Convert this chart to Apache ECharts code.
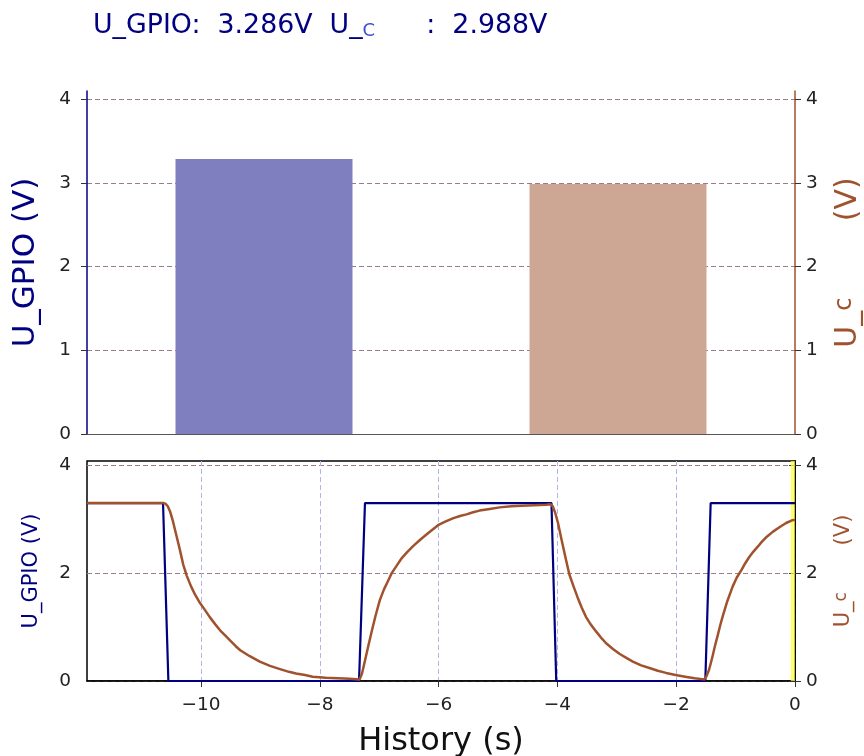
<!DOCTYPE html>
<html>
<head>
<meta charset="utf-8">
<script src="https://cdn.jsdelivr.net/npm/echarts@6/dist/echarts.min.js"></script>
<style>
html, body { margin: 0; padding: 0; background: #fff; overflow: hidden; }
#main { width: 864px; height: 756px; }
</style>
</head>
<body>
<div id="main"></div>
<script>
// current values (top bars)
var barNames = ['U_GPIO', 'U_C'];
var barValues = [3.286, 2.988];

// history traces, [t (s), U (V)]
var gpioHistory = [
    [-11.92, 3.30], [-10.64, 3.30], [-10.55, 0], [-7.34, 0], [-7.24, 3.30],
    [-4.10, 3.30], [-4.02, 0], [-1.51, 0], [-1.42, 3.30], [0, 3.30]
];
var ucHistory = [
    [-11.92, 3.30], [-10.64, 3.30], [-10.60, 3.29], [-10.56, 3.24], [-10.52, 3.14],
    [-10.47, 2.95], [-10.42, 2.72], [-10.36, 2.45], [-10.30, 2.16], [-10.24, 1.95],
    [-10.17, 1.76], [-10.10, 1.60], [-10.02, 1.45], [-9.93, 1.31], [-9.85, 1.18],
    [-9.76, 1.05], [-9.68, 0.94], [-9.59, 0.84], [-9.50, 0.74], [-9.42, 0.65],
    [-9.34, 0.57], [-9.18, 0.46], [-9.01, 0.36], [-8.84, 0.28], [-8.67, 0.22],
    [-8.52, 0.17], [-8.40, 0.14], [-8.25, 0.11], [-8.12, 0.08], [-7.90, 0.06],
    [-7.70, 0.05], [-7.50, 0.04], [-7.33, 0.03],
    [-7.29, 0.14], [-7.25, 0.33], [-7.19, 0.62], [-7.12, 0.95], [-7.06, 1.22],
    [-6.99, 1.50], [-6.92, 1.70], [-6.85, 1.86], [-6.79, 2.00], [-6.70, 2.15],
    [-6.62, 2.28], [-6.53, 2.39], [-6.43, 2.50], [-6.32, 2.61], [-6.20, 2.72],
    [-6.10, 2.81], [-6.01, 2.89], [-5.88, 2.96], [-5.75, 3.02], [-5.64, 3.06],
    [-5.53, 3.09], [-5.42, 3.13], [-5.31, 3.16], [-5.14, 3.19], [-4.97, 3.22],
    [-4.78, 3.24], [-4.60, 3.25], [-4.40, 3.26], [-4.19, 3.27], [-4.12, 3.28],
    [-4.08, 3.24], [-4.04, 3.13], [-3.99, 2.93], [-3.93, 2.62], [-3.87, 2.32],
    [-3.80, 1.98], [-3.73, 1.76], [-3.66, 1.55], [-3.59, 1.36], [-3.52, 1.19],
    [-3.44, 1.05], [-3.35, 0.92], [-3.27, 0.81], [-3.18, 0.70], [-3.06, 0.59],
    [-2.95, 0.50], [-2.84, 0.43], [-2.73, 0.36], [-2.59, 0.29], [-2.45, 0.24],
    [-2.31, 0.19], [-2.17, 0.15], [-2.01, 0.11], [-1.85, 0.08], [-1.69, 0.05],
    [-1.53, 0.03],
    [-1.49, 0.09], [-1.45, 0.20], [-1.42, 0.32], [-1.39, 0.45], [-1.35, 0.64],
    [-1.30, 0.85], [-1.26, 1.03], [-1.22, 1.19], [-1.14, 1.48], [-1.05, 1.75],
    [-0.98, 1.92], [-0.90, 2.06], [-0.84, 2.18], [-0.77, 2.30], [-0.70, 2.40],
    [-0.62, 2.50], [-0.56, 2.58], [-0.49, 2.66], [-0.37, 2.77], [-0.25, 2.86],
    [-0.15, 2.93], [-0.05, 2.98], [0, 2.988]
];

var topTicks = [0, 1, 2, 3, 4];
var bottomYTicks = [0, 2, 4];
var timeTicks = [-10, -8, -6, -4, -2, 0];

var NAVY = '#000080';
var SIENNA = '#a0522d';
var FONT = 'DejaVu Sans';

var myChart = echarts.init(document.getElementById('main'));

function minusSign(v)
{
    return String(v).replace('-', '\u2212');
}

function valueAxis(grid, pos, lineColor, ticks, max, split)
{
    return {
        type: 'value',
        gridIndex: grid,
        position: pos,
        min: 0,
        max: max,
        axisLine: { show: true, lineStyle: { color: lineColor, width: 1.5 } },
        axisTick: { show: true, inside: false, length: 6, customValues: ticks, lineStyle: { color: '#333' } },
        axisLabel: {
            customValues: ticks, fontFamily: FONT, fontSize: 18.5, color: '#222',
            margin: pos == 'left' ? 16 : 11
        },
        splitLine: {
            show: split,
            lineStyle: { color: '#9a7c90', type: [5, 3], width: 1 }
        }
    };
}

var yAxes = [
    valueAxis(0, 'left', NAVY, topTicks, 4.1, true),
    valueAxis(0, 'right', SIENNA, topTicks, 4.1, false),
    valueAxis(1, 'left', '#000', bottomYTicks, 4.08, true),
    valueAxis(1, 'right', '#000', bottomYTicks, 4.08, false)
];
yAxes[0].name = 'U_GPIO (V)';
yAxes[0].nameTextStyle = { fontFamily: FONT, fontSize: 31, color: NAVY };
yAxes[0].nameGap = 46;
yAxes[1].name = 'U_{c|c}        (V)';
yAxes[1].nameTextStyle = { fontFamily: FONT, fontSize: 30, color: SIENNA,
    rich: { c: { fontFamily: FONT, fontSize: 24, color: SIENNA, verticalAlign: 'top' } } };
yAxes[1].nameGap = 38;
yAxes[2].name = 'U_GPIO (V)';
yAxes[2].nameTextStyle = { fontFamily: FONT, fontSize: 21, color: NAVY };
yAxes[2].nameGap = 45;
yAxes[3].name = 'U_{c|c}       (V)';
yAxes[3].nameTextStyle = { fontFamily: FONT, fontSize: 21, color: SIENNA,
    rich: { c: { fontFamily: FONT, fontSize: 17, color: SIENNA, verticalAlign: 'top' } } };
yAxes[3].nameGap = 38;
for (var i = 0; i < yAxes.length; i++)
{
    yAxes[i].nameLocation = 'middle';
    yAxes[i].nameRotate = 90;
}

var option = {
    backgroundColor: '#fff',
    animation: false,
    title: {
        left: 88,
        top: 7,
        text: '{a|U_GPIO:  3.286V  U_}{b|C}{a|      :  2.988V}',
        textStyle: {
            fontWeight: 'normal',
            rich: {
                a: { fontFamily: FONT, fontSize: 26.8, fontWeight: 'normal', color: NAVY },
                b: { fontFamily: FONT, fontSize: 18, fontWeight: 'normal', color: '#3a4fd0', verticalAlign: 'bottom', padding: [10, 0, 0, 0] }
            }
        }
    },
    grid: [
        { left: 87, top: 91, width: 708, height: 343, outerBoundsMode: 'none' },
        { left: 87, top: 461, width: 708, height: 220, outerBoundsMode: 'none',
          show: true, borderColor: '#000', borderWidth: 1.5 }
    ],
    xAxis: [
        {
            type: 'category',
            gridIndex: 0,
            data: barNames,
            axisLine: { lineStyle: { color: '#555', width: 1 } },
            axisTick: { show: false },
            axisLabel: { show: false }
        },
        {
            type: 'value',
            gridIndex: 1,
            min: -11.92,
            max: 0,
            name: 'History (s)',
            nameLocation: 'middle',
            nameGap: 45,
            nameTextStyle: { fontFamily: FONT, fontSize: 32, color: '#111' },
            axisLine: { lineStyle: { color: '#000', width: 1.5 } },
            axisTick: { show: true, length: 6, customValues: timeTicks, lineStyle: { color: '#333' } },
            axisLabel: {
                customValues: timeTicks,
                fontFamily: FONT, fontSize: 18.5, color: '#222', margin: 15,
                formatter: minusSign
            },
            splitLine: { show: true, lineStyle: { color: '#b4b4ec', type: [5, 3], width: 1 } }
        }
    ],
    yAxis: yAxes,
    series: [
        {
            type: 'bar',
            xAxisIndex: 0,
            yAxisIndex: 0,
            barWidth: '50%',
            data: [
                { value: barValues[0], itemStyle: { color: '#7f7fc0' } },
                { value: barValues[1], itemStyle: { color: '#cda794' } }
            ]
        },
        {
            type: 'line',
            name: 'U_GPIO',
            xAxisIndex: 1,
            yAxisIndex: 2,
            showSymbol: false,
            data: gpioHistory,
            lineStyle: { color: NAVY, width: 2.2 },
            markArea: {
                silent: true,
                itemStyle: { color: 'rgba(255,255,60,0.75)' },
                data: [[{ xAxis: -0.07 }, { xAxis: 0 }]]
            }
        },
        {
            type: 'line',
            name: 'U_C',
            xAxisIndex: 1,
            yAxisIndex: 2,
            showSymbol: false,
            data: ucHistory,
            lineStyle: { color: SIENNA, width: 2.5, join: 'round' }
        }
    ]
};

myChart.setOption(option);
</script>
</body>
</html>
